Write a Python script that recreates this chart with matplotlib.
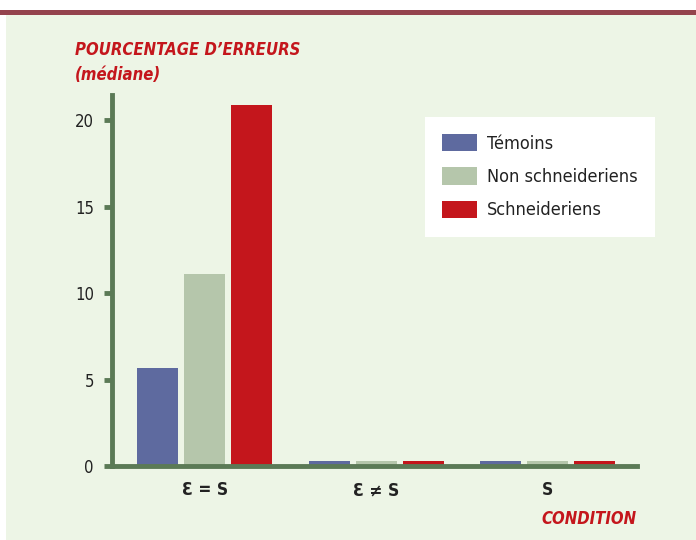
import numpy as np
import matplotlib.pyplot as plt
from matplotlib.patches import Rectangle

conditions = ['\u0190 = S', '\u0190 \u2260 S', 'S']
groups = ['Témoins', 'Non schneideriens', 'Schneideriens']
temoins = [5.65, 0.3, 0.3]
non_schneid = [11.1, 0.3, 0.3]
schneid = [20.9, 0.3, 0.3]
yticks = [0, 5, 10, 15, 20]

colors = ['#5e6a9f', '#b5c6ab', '#c4161c']
axis_col = '#5b7a56'
bg = '#edf5e6'
red_txt = '#c4161c'
cond = dict(family='DejaVu Sans', fontstretch='condensed')

fig = plt.figure(figsize=(6.96, 5.4), dpi=100)
fig.patch.set_facecolor('white')
# fond vert pâle + bandeau du haut
fig.add_artist(Rectangle((6/696, 0), 1, 1 - 15/540, transform=fig.transFigure,
                         facecolor=bg, edgecolor='none', zorder=0))
fig.add_artist(Rectangle((0, 1 - 15/540), 1, 5/540, transform=fig.transFigure,
                         facecolor='#94434d', edgecolor='none', zorder=1))

ax = fig.add_axes([112/696, 1 - 466/540, (637 - 112)/696, (466 - 95)/540])
ax.set_facecolor('none')

x = np.arange(len(conditions))
w = 0.239
step = 0.274
for i, (vals, c, lab) in enumerate(zip([temoins, non_schneid, schneid], colors, groups)):
    ax.bar(x + (i - 1) * step, vals, width=w, color=c, label=lab, zorder=2)

ax.set_xlim(-0.542, 2.519)
ax.set_ylim(0, 21.45)
ax.set_yticks(yticks)
ax.set_yticklabels([str(t) for t in yticks], fontsize=12, color='#222222', **cond)
ax.set_xticks(x)
ax.set_xticklabels(conditions, fontsize=12.5, fontweight='bold', color='#222222', **cond)
ax.tick_params(axis='y', length=6, width=3.5, color=axis_col, pad=7)
ax.tick_params(axis='x', length=0, pad=11)

for s in ['top', 'right']:
    ax.spines[s].set_visible(False)
for s in ['left', 'bottom']:
    ax.spines[s].set_color(axis_col)
    ax.spines[s].set_linewidth(3.5)
    ax.spines[s].set_zorder(3)

fig.text(75/696, 1 - 50/540, 'POURCENTAGE D\u2019ERREURS', color=red_txt, fontsize=12,
         fontweight='bold', style='italic', va='center', **cond)
fig.text(75/696, 1 - 75/540, '(médiane)', color=red_txt, fontsize=12,
         fontweight='bold', style='italic', va='center', **cond)
fig.text(637/696, 1 - 519/540, 'CONDITION', color=red_txt, fontsize=12,
         fontweight='bold', style='italic', va='center', ha='right', **cond)

leg = ax.legend(loc='upper right', bbox_to_anchor=(655/696, 1 - 117/540),
                bbox_transform=fig.transFigure, frameon=True, fancybox=False,
                prop=dict(size=13, family='DejaVu Sans', stretch='condensed'),
                handlelength=1.95, handleheight=1.1,
                labelspacing=0.8, borderpad=0.95, handletextpad=0.55, borderaxespad=0)
leg.get_frame().set_facecolor('white')
leg.get_frame().set_edgecolor('none')
leg.get_frame().set_alpha(1)
for t in leg.get_texts():
    t.set_color('#222222')

fig.savefig('out.png', dpi=100, facecolor=fig.get_facecolor())
